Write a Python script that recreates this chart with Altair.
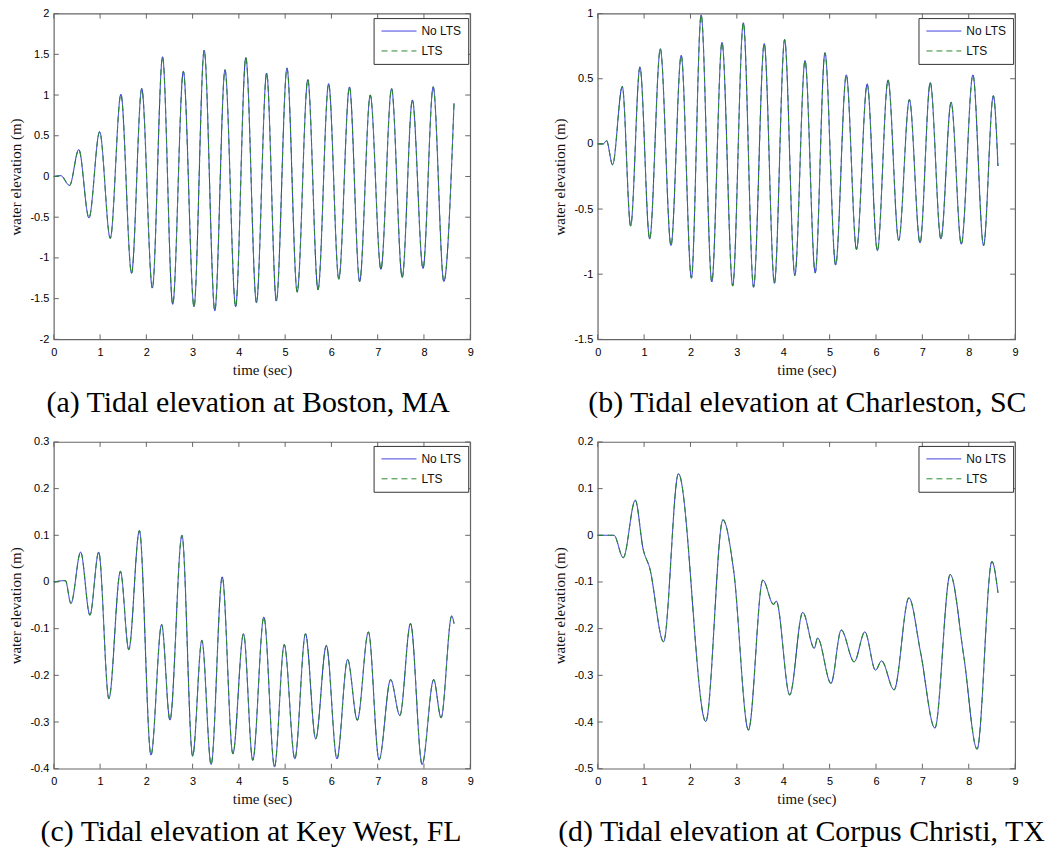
import altair as alt
import pandas as pd

# ---------------- data ----------------
series_names = ["No LTS", "LTS"]
x_ticks = [0, 1, 2, 3, 4, 5, 6, 7, 8, 9]

boston_t = [0, 0.15, 0.34, 0.54, 0.76, 0.99, 1.22, 1.45, 1.68, 1.90, 2.13, 2.35, 2.57, 2.80,
            3.03, 3.25, 3.48, 3.70, 3.93, 4.15, 4.38, 4.60, 4.81, 5.04, 5.26, 5.49, 5.71,
            5.94, 6.16, 6.39, 6.61, 6.84, 7.07, 7.30, 7.53, 7.75, 7.98, 8.20, 8.43, 8.65]
boston_y = [0, 0.01, -0.11, 0.33, -0.51, 0.55, -0.76, 1.01, -1.19, 1.08, -1.37, 1.47, -1.57,
            1.29, -1.60, 1.55, -1.65, 1.31, -1.60, 1.46, -1.55, 1.27, -1.53, 1.33, -1.42, 1.19,
            -1.39, 1.14, -1.26, 1.10, -1.29, 1.00, -1.14, 1.08, -1.24, 0.94, -1.13, 1.10, -1.29,
            0.90]
boston_yticks = [-2, -1.5, -1, -0.5, 0, 0.5, 1, 1.5, 2]

charleston_t = [0, 0.12, 0.19, 0.32, 0.53, 0.71, 0.91, 1.12, 1.35, 1.58, 1.80, 2.02, 2.23, 2.46,
                2.68, 2.91, 3.14, 3.36, 3.59, 3.81, 4.03, 4.25, 4.47, 4.69, 4.90, 5.13, 5.36,
                5.58, 5.81, 6.03, 6.26, 6.49, 6.72, 6.95, 7.17, 7.40, 7.62, 7.84, 8.09, 8.32,
                8.53, 8.63]
charleston_y = [0, 0.0, 0.025, -0.16, 0.44, -0.63, 0.59, -0.73, 0.73, -0.78, 0.68, -1.03, 0.99,
                -1.06, 0.78, -1.09, 0.93, -1.10, 0.77, -1.07, 0.80, -1.01, 0.64, -0.99, 0.70,
                -0.93, 0.53, -0.81, 0.46, -0.82, 0.49, -0.74, 0.34, -0.76, 0.47, -0.73, 0.32,
                -0.77, 0.53, -0.78, 0.37, -0.17]
charleston_yticks = [-1.5, -1, -0.5, 0, 0.5, 1]

keywest_t = [0, 0.25, 0.37, 0.58, 0.78, 0.97, 1.19, 1.44, 1.62, 1.85, 2.10, 2.33, 2.51, 2.77,
             3.00, 3.20, 3.40, 3.64, 3.87, 4.10, 4.30, 4.54, 4.77, 4.98, 5.21, 5.44, 5.66,
             5.89, 6.12, 6.35, 6.56, 6.80, 7.03, 7.28, 7.48, 7.71, 7.96, 8.21, 8.37, 8.60, 8.65]
keywest_y = [0, 0.003, -0.046, 0.064, -0.071, 0.064, -0.25, 0.023, -0.145, 0.11, -0.371,
             -0.091, -0.296, 0.10, -0.373, -0.125, -0.391, 0.011, -0.368, -0.111, -0.382,
             -0.075, -0.396, -0.134, -0.379, -0.111, -0.336, -0.136, -0.379, -0.166, -0.296,
             -0.107, -0.381, -0.209, -0.286, -0.089, -0.391, -0.209, -0.291, -0.073, -0.089]
keywest_yticks = [-0.4, -0.3, -0.2, -0.1, 0, 0.1, 0.2, 0.3]

corpus_t = [0, 0.35, 0.55, 0.81, 0.98, 1.12, 1.42, 1.74, 2.33, 2.70, 2.93, 3.25, 3.56, 3.79,
            3.85, 4.14, 4.42, 4.67, 4.74, 5.03, 5.25, 5.53, 5.76, 5.99, 6.12, 6.39, 6.71,
            6.96, 7.27, 7.60, 7.89, 8.18, 8.50, 8.63]
corpus_y = [0, 0, -0.048, 0.075, -0.03, -0.07, -0.228, 0.132, -0.399, 0.033, -0.075, -0.417,
            -0.096, -0.148, -0.141, -0.342, -0.165, -0.242, -0.220, -0.317, -0.203, -0.271,
            -0.207, -0.289, -0.269, -0.331, -0.134, -0.25, -0.413, -0.084, -0.257, -0.458,
            -0.056, -0.123]
corpus_yticks = [-0.5, -0.4, -0.3, -0.2, -0.1, 0, 0.1, 0.2]

captions = [
    "(a) Tidal elevation at Boston, MA",
    "(b) Tidal elevation at Charleston, SC",
    "(c) Tidal elevation at Key West, FL",
    "(d) Tidal elevation at Corpus Christi, TX",
]

# ---------------- styling ----------------
BLUE = "#2828dc"
GREEN = "#2a8a2a"
FRAME = "#666666"
SANS = "Liberation Sans"
SERIF = "Liberation Serif"
MINUS = "\u2212"
LABEL_EXPR = f"replace(datum.label, '{MINUS}', '-')"
TICK = 5


def panel(t, y, ydom, yticks, caption, w, h, cap_dx, leg_y):
    df = pd.DataFrame({
        "time": list(t) + list(t),
        "elev": list(y) + list(y),
        "series": [series_names[0]] * len(t) + [series_names[1]] * len(t),
    })
    legend = alt.Legend(
        title=None, orient="none", legendX=w - 97, legendY=leg_y,
        symbolType="M-1,0H6", symbolSize=100, symbolStrokeWidth=1,
        labelFont=SANS, labelFontSize=12, labelColor="#111111",
        labelOffset=29, rowPadding=8, padding=7,
        strokeColor="#333333", fillColor="white", offset=0,
    )
    color = alt.Color("series:N", sort=series_names,
                      scale=alt.Scale(domain=series_names, range=[BLUE, GREEN]),
                      legend=legend)
    dash = alt.StrokeDash("series:N", sort=series_names,
                          scale=alt.Scale(domain=series_names, range=[[1, 0], [6, 4]]),
                          legend=legend)
    xenc = alt.X("time:Q", scale=alt.Scale(domain=[0, 9], nice=False, zero=False),
                 axis=alt.Axis(values=x_ticks, title="time (sec)", labelFlush=False,
                               labelOverlap=False, format="~g"))
    yenc = alt.Y("elev:Q", scale=alt.Scale(domain=ydom, nice=False, zero=False),
                 axis=alt.Axis(values=yticks, title="water elevation (m)", labelFlush=False,
                               labelOverlap=False, format="~g", labelExpr=LABEL_EXPR))
    base = alt.Chart(df)
    l_no = base.transform_filter(f"datum.series == '{series_names[0]}'").mark_line(
        interpolate="monotone", strokeWidth=1).encode(x=xenc, y=yenc, color=color, strokeDash=dash)
    l_lts = base.transform_filter(f"datum.series == '{series_names[1]}'").mark_line(
        interpolate="monotone", strokeWidth=1.1).encode(x=xenc, y=yenc, color=color, strokeDash=dash)

    xt = pd.DataFrame({"v": x_ticks})
    yt = pd.DataFrame({"v": yticks})
    rule = dict(color=FRAME, strokeWidth=1)
    top_t = alt.Chart(xt).mark_rule(**rule).encode(x="v:Q", y=alt.value(0), y2=alt.value(TICK))
    bot_t = alt.Chart(xt).mark_rule(**rule).encode(x="v:Q", y=alt.value(h - TICK), y2=alt.value(h))
    lft_t = alt.Chart(yt).mark_rule(**rule).encode(y="v:Q", x=alt.value(0), x2=alt.value(TICK))
    rgt_t = alt.Chart(yt).mark_rule(**rule).encode(y="v:Q", x=alt.value(w - TICK), x2=alt.value(w))

    return alt.layer(top_t, bot_t, lft_t, rgt_t, l_no, l_lts).properties(
        width=w, height=h,
        title=alt.TitleParams(text=caption, orient="bottom", anchor="middle", font=SERIF,
                              fontSize=30, fontWeight="normal", color="#000000",
                              offset=11, dx=cap_dx),
    )


pa = panel(boston_t, boston_y, [-2, 2], boston_yticks, captions[0], 418, 327, -14, 4.5)
pb = panel(charleston_t, charleston_y, [-1.5, 1], charleston_yticks, captions[1], 419, 327, 1, 4.5)
pc = panel(keywest_t, keywest_y, [-0.4, 0.3], keywest_yticks, captions[2], 418, 328, -11, 4)
pd_ = panel(corpus_t, corpus_y, [-0.5, 0.2], corpus_yticks, captions[3], 419, 328, -5, 4)

chart = alt.concat(
    pa, pb, pc, pd_, columns=2, spacing={"row": 103, "column": 128}, bounds="flush"
).resolve_scale(
    y="independent", color="independent", strokeDash="independent"
).properties(
    padding={"left": 0, "top": -3, "right": 0, "bottom": 0},
    background="white",
).configure_view(
    stroke=FRAME, strokeWidth=1.2
).configure_axis(
    grid=False, ticks=False, domain=False,
    labelFont=SANS, labelFontSize=11, labelColor="#000000",
    titleFont=SERIF, titleFontSize=15, titleFontWeight="normal", titleColor="#111111",
).configure_axisX(
    labelPadding=7, titlePadding=5,
).configure_axisY(
    labelPadding=5, titlePadding=6,
)

chart.save("out.html", embed_options={"renderer": "svg", "actions": False})
